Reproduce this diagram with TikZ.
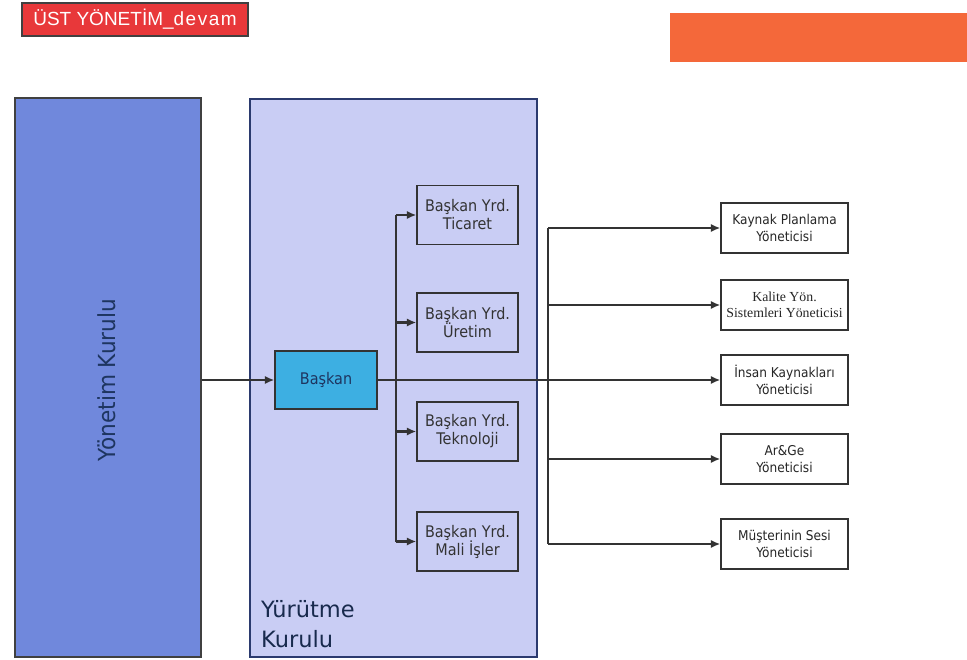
\documentclass[tikz,border=0pt]{standalone}
\usepackage{fontspec}
\setmainfont{DejaVu Sans}
\newfontfamily\narrowsans[FakeStretch=0.9]{DejaVu Sans}
\newfontfamily\boardsans[FakeStretch=0.92]{DejaVu Sans}
\newfontfamily\arialfont{Liberation Sans}
\newfontfamily\timesfont{Liberation Serif}
\usetikzlibrary{arrows.meta}

\definecolor{titlered}{HTML}{E8383A}
\definecolor{orangebar}{HTML}{F4683A}
\definecolor{boardblue}{HTML}{7088DC}
\definecolor{execfill}{HTML}{C9CDF4}
\definecolor{execedge}{HTML}{2B3A6E}
\definecolor{chairfill}{HTML}{3DAFE2}
\definecolor{navytext}{HTML}{1E3560}
\definecolor{linkgray}{HTML}{333333}

\tikzset{
  link/.style={draw=linkgray, line width=2.1pt},
  arr/.style={link, -{Latex[length=9.5pt,width=8.5pt]}},
  vpbox/.style={draw=linkgray, line width=1.5pt, minimum width=101pt, minimum height=59pt,
    inner sep=0pt, align=center, text=black!80, font=\narrowsans\fontsize{16}{18}\selectfont},
  mgrbox/.style={draw=linkgray, line width=1.5pt, fill=white, minimum width=127pt, minimum height=50pt,
    inner sep=0pt, align=center, text=black!85, font=\narrowsans\fontsize{13.5}{16.5}\selectfont},
}

\begin{document}
\begin{tikzpicture}[x=1pt, y=-1pt]
  \useasboundingbox (0,0) rectangle (967,659);

  % header bars
  \node[fill=titlered, draw=black!75, line width=1.5pt, minimum width=226pt, minimum height=33pt,
        inner sep=0pt, text=white, font=\arialfont\fontsize{19}{21}\selectfont]
        (title) at (135,19.5) {ÜST YÖNETİM\_d\kern1.5pt e\kern1.5pt v\kern1.5pt a\kern1.5pt m};
  \node[fill=orangebar, minimum width=297pt, minimum height=49pt, inner sep=0pt] (bar) at (818.5,37.5) {};

  % board of directors
  \node[fill=boardblue, draw=black!75, line width=1.5pt, minimum width=186pt, minimum height=559pt,
        inner sep=0pt] (board) at (108,377.5) {};
  \node[rotate=90, text=navytext, font=\boardsans\fontsize{23.5}{26}\selectfont] (boardlabel) at (107,380) {Yönetim Kurulu};

  % executive board
  \node[fill=execfill, draw=execedge, line width=1.5pt, minimum width=287pt, minimum height=558pt,
        inner sep=0pt] (exec) at (393.5,378) {};
  \node[anchor=base west, align=left, text=navytext!80!black, inner sep=0pt,
        font=\fontsize{22.5}{30}\selectfont] (execlabel) at (261,647) {Yürütme\\Kurulu};

  % chairman
  \node[fill=chairfill, draw=linkgray, line width=1.5pt, minimum width=102pt, minimum height=58pt,
        inner sep=0pt, text=navytext, font=\narrowsans\fontsize{16}{18}\selectfont] (chair) at (326,380) {Başkan};

  % vice chairmen
  \node[vpbox] (vp1) at (467.5,215)   {Başkan Yrd.\\Ticaret};
  \node[vpbox] (vp2) at (467.5,322.5) {Başkan Yrd.\\Üretim};
  \node[vpbox] (vp3) at (467.5,431.5) {Başkan Yrd.\\Teknoloji};
  \node[vpbox] (vp4) at (467.5,541.5) {Başkan Yrd.\\Mali İşler};

  % managers
  \node[mgrbox] (m1) at (784.5,228) {Kaynak Planlama\\Yöneticisi};
  \node[mgrbox, font=\timesfont\fontsize{13.8}{16.5}\selectfont] (m2) at (784.5,305) {Kalite Yön.\\Sistemleri Yöneticisi};
  \node[mgrbox] (m3) at (784.5,380) {İnsan Kaynakları\\Yöneticisi};
  \node[mgrbox] (m4) at (784.5,459) {Ar\&Ge\\Yöneticisi};
  \node[mgrbox] (m5) at (784.5,544) {Müşterinin Sesi\\Yöneticisi};

  % bus lines
  \coordinate (vbus) at (396,380);
  \coordinate (mbus) at (548,380);

  % connectors
  \draw[arr] (chair.west -| board.east) -- (chair.west);
  \draw[link] (vbus |- vp1.west) -- (vbus |- vp4.west);
  \foreach \v in {vp1,vp2,vp3,vp4}
    \draw[arr] (vbus |- \v.west) -- (\v.west);
  \draw[arr] (chair.east) -- (m3.west);
  \draw[link] (mbus |- m1.west) -- (mbus |- m5.west);
  \foreach \m in {m1,m2,m4,m5}
    \draw[arr] (mbus |- \m.west) -- (\m.west);
\end{tikzpicture}
\end{document}
